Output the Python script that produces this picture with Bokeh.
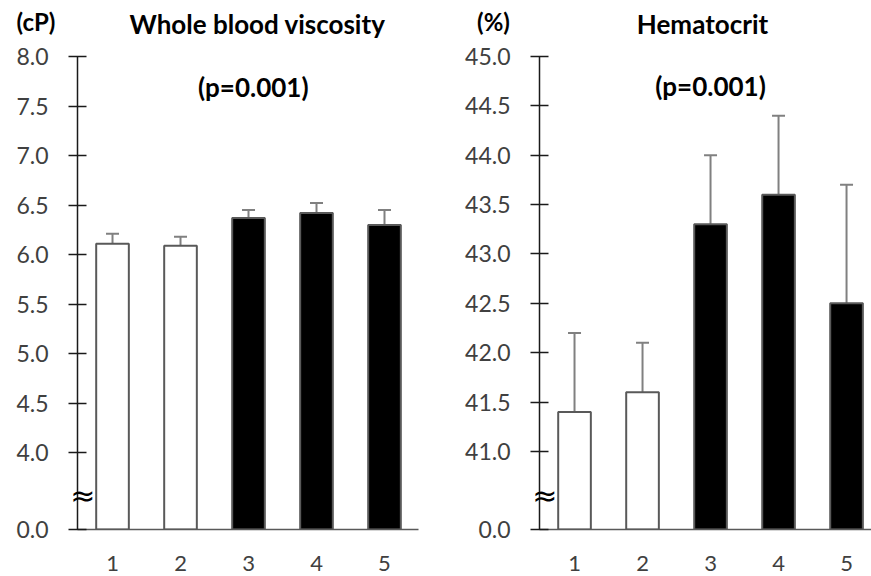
from bokeh.plotting import figure
from bokeh.layouts import row, column
from bokeh.models import (ColumnDataSource, Whisker, TeeHead, FixedTicker, Label, Range1d,
                          LinearAxis)
from bokeh.core.properties import value
from bokeh.embed import file_html
from bokeh.resources import INLINE

# ---------------- data ----------------
groups = [1, 2, 3, 4, 5]
group_labels = ["1", "2", "3", "4", "5"]
bar_colors = ["white", "white", "black", "black", "black"]

wbv_mean = [6.11, 6.09, 6.37, 6.42, 6.30]
wbv_upper = [6.21, 6.18, 6.45, 6.52, 6.45]
wbv_ticks = [4.0, 4.5, 5.0, 5.5, 6.0, 6.5, 7.0, 7.5, 8.0]

hct_mean = [41.4, 41.6, 43.3, 43.6, 42.5]
hct_upper = [42.2, 42.1, 44.0, 44.4, 43.7]
hct_ticks = [41.0, 41.5, 42.0, 42.5, 43.0, 43.5, 44.0, 44.5, 45.0]

titles = ["Whole blood viscosity", "Hematocrit"]
units = ["(cP)", "(%)"]
p_text = "(p=0.001)"

# position on the broken axis where "0.0" is drawn, and where the break mark sits
WBV_BREAK = 3.225
HCT_BREAK = 40.21
WBV_MARK = 3.568
HCT_MARK = 40.556

FONT = "Lato"
AXIS_COLOR = "#1a1a1a"
LABEL_COLOR = "#404040"


def make_panel(mean, upper, ticks, base, ymax, mark_y, width, min_left, min_right,
               min_top, x_end, p_xy, mark_standoff):
    p = figure(width=width, height=536, output_backend="svg", toolbar_location=None,
               x_range=Range1d(0.485, x_end), y_range=Range1d(base, ymax),
               min_border_left=min_left, min_border_right=min_right,
               min_border_top=min_top, min_border_bottom=47)
    p.outline_line_color = None
    p.xgrid.visible = False
    p.ygrid.visible = False
    p.background_fill_color = "white"

    src = ColumnDataSource(dict(x=groups, top=mean, upper=upper, color=bar_colors))
    p.vbar(x="x", top="top", bottom=base, width=0.48, source=src,
           fill_color="color", line_color="#595959", line_width=2)
    w = Whisker(source=src, base="x", lower="top", upper="upper", dimension="height",
                line_color="#808080", line_width=2, lower_head=None,
                upper_head=TeeHead(size=13, line_color="#808080", line_width=2))
    p.add_layout(w)

    # y axis
    p.yaxis.ticker = FixedTicker(ticks=[base] + ticks)
    p.yaxis.major_label_overrides = {base: "0.0", **{t: f"{t:.1f}" for t in ticks}}
    p.yaxis.major_tick_in = 9
    p.yaxis.major_tick_out = 9
    p.yaxis.minor_tick_line_color = None
    p.yaxis.axis_line_color = AXIS_COLOR
    p.yaxis.axis_line_width = 1.5
    p.yaxis.major_tick_line_color = AXIS_COLOR
    p.yaxis.major_tick_line_width = 1.5
    p.yaxis.major_label_standoff = 20
    p.yaxis.major_label_text_font = FONT
    p.yaxis.major_label_text_font_size = "23px"
    p.yaxis.major_label_text_color = LABEL_COLOR

    # axis-break mark, drawn as a second (label-only) axis
    brk = LinearAxis(ticker=FixedTicker(ticks=[mark_y]),
                     major_label_overrides={mark_y: "\u2248"},
                     axis_line_color=None, major_tick_line_color=None,
                     minor_tick_line_color=None, major_tick_out=0, major_tick_in=0,
                     major_label_standoff=mark_standoff,
                     major_label_text_font="DejaVu Sans",
                     major_label_text_font_size="30px",
                     major_label_text_color="black")
    p.add_layout(brk, "left")

    # x axis
    p.xaxis.ticker = FixedTicker(ticks=groups)
    p.xaxis.major_label_overrides = {g: l for g, l in zip(groups, group_labels)}
    p.xaxis.major_tick_line_color = None
    p.xaxis.minor_tick_line_color = None
    p.xaxis.axis_line_color = "#595959"
    p.xaxis.axis_line_width = 1.5
    p.xaxis.major_label_standoff = 20
    p.xaxis.major_label_text_font = FONT
    p.xaxis.major_label_text_font_size = "22px"
    p.xaxis.major_label_text_color = LABEL_COLOR

    p.add_layout(Label(x=p_xy[0], y=p_xy[1], text=p_text, text_font=FONT,
                       text_font_style="bold", text_font_size="26px", text_color="black",
                       text_align="center", text_baseline="middle"))
    return p


# header strip with titles and units
hdr = figure(width=871, height=40, output_backend="svg", toolbar_location=None,
             x_range=Range1d(0, 871), y_range=Range1d(40, 0),
             x_axis_location=None, y_axis_location=None, min_border=0)
hdr.outline_line_color = None
hdr.xgrid.visible = False
hdr.ygrid.visible = False
hdr_src = ColumnDataSource(dict(x=[35.5, 257, 493, 702], y=[21, 23, 21, 23],
                                t=[units[0], titles[0], units[1], titles[1]],
                                s=["24px", "26px", "24px", "26px"]))
hdr.text(x="x", y="y", text="t", source=hdr_src, text_font=value(FONT),
         text_font_style="bold", text_font_size="s", text_color="black",
         text_align="center", text_baseline="middle")

p1 = make_panel(wbv_mean, wbv_upper, wbv_ticks, WBV_BREAK, 8.0, WBV_MARK, width=440,
                min_left=77, min_right=22, min_top=14, x_end=5.5, p_xy=(3.07, 7.69),
                mark_standoff=-82)
p2 = make_panel(hct_mean, hct_upper, hct_ticks, HCT_BREAK, 45.0, HCT_MARK, width=431,
                min_left=99, min_right=0, min_top=16, x_end=5.367, p_xy=(3.0, 44.706),
                mark_standoff=-95)

layout = column(hdr, row(p1, p2))
open("out.html", "w").write(file_html(layout, INLINE))
